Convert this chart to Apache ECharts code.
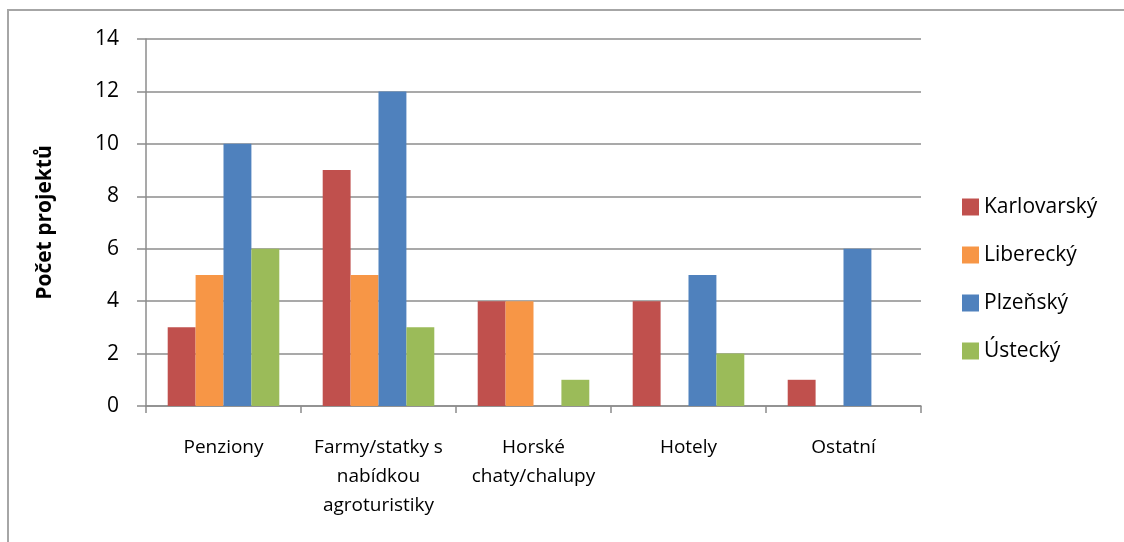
<!DOCTYPE html>
<html>
<head>
<meta charset="utf-8">
<script src="https://cdn.jsdelivr.net/npm/echarts@6/dist/echarts.min.js"></script>
<style>
  html, body { margin: 0; padding: 0; background: #fff; }
  #chart { width: 1124px; height: 542px; }
</style>
</head>
<body>
<div id="chart"></div>
<script>
// typy ubytování
const categories = ['Penziony', 'Farmy/statky s\nnabídkou\nagroturistiky', 'Horské\nchaty/chalupy', 'Hotely', 'Ostatní'];
const seriesNames = ['Karlovarský', 'Liberecký', 'Plzeňský', 'Ústecký'];
const karlovarsky = [3, 9, 4, 4, 1];
const liberecky = [5, 5, 4, 0, 0];
const plzensky = [10, 12, 0, 5, 6];
const ustecky = [6, 3, 1, 2, 0];
const yTicks = [0, 2, 4, 6, 8, 10, 12, 14];

const colors = ['#C0504D', '#F79646', '#4F81BD', '#9BBB59'];
const values = [karlovarsky, liberecky, plzensky, ustecky];
const font = 'Open Sans, Liberation Sans, sans-serif';
const gridColor = '#8c8c8c';

const chart = echarts.init(document.getElementById('chart'));

const option = {
  animation: false,
  color: colors,
  graphic: [{
    type: 'rect',
    shape: { x: 8, y: 10, width: 1300, height: 700 },
    style: { fill: 'none', stroke: '#a6a6a6', lineWidth: 2 },
    silent: true
  }],
  grid: { left: 146, top: 39, right: 203, bottom: 136 },
  legend: {
    orient: 'vertical',
    left: 957,
    top: 191,
    itemWidth: 17,
    itemHeight: 17,
    itemGap: 26,
    icon: 'rect',
    data: seriesNames,
    textStyle: { fontFamily: font, fontSize: 21, lineHeight: 22, color: '#000' }
  },
  xAxis: {
    type: 'category',
    data: categories,
    axisLine: { lineStyle: { color: gridColor, width: 1.5 } },
    axisTick: { show: true, length: 7, lineStyle: { color: gridColor, width: 1.5 } },
    axisLabel: {
      interval: 0,
      margin: 27,
      fontFamily: font,
      fontSize: 19,
      lineHeight: 29,
      color: '#000'
    }
  },
  yAxis: {
    type: 'value',
    min: 0,
    max: 14,
    interval: 2,
    name: 'Počet projektů',
    nameLocation: 'middle',
    nameGap: 90,
    nameTextStyle: { fontFamily: font, fontSize: 21, fontWeight: 'bold', color: '#000' },
    axisLine: { show: true, lineStyle: { color: gridColor, width: 1.5 } },
    axisTick: { show: true, length: 9, lineStyle: { color: gridColor, width: 1.5 } },
    axisLabel: {
      margin: 27,
      fontFamily: font,
      fontSize: 21,
      color: '#000',
      formatter: v => yTicks.includes(v) ? String(v) : ''
    },
    splitLine: { lineStyle: { color: gridColor, width: 1.5 } }
  },
  series: seriesNames.map((name, i) => ({
    name: name,
    type: 'bar',
    data: values[i],
    barGap: '0%',
    barCategoryGap: '28%',
    itemStyle: { color: colors[i] }
  }))
};

chart.setOption(option);
</script>
</body>
</html>
